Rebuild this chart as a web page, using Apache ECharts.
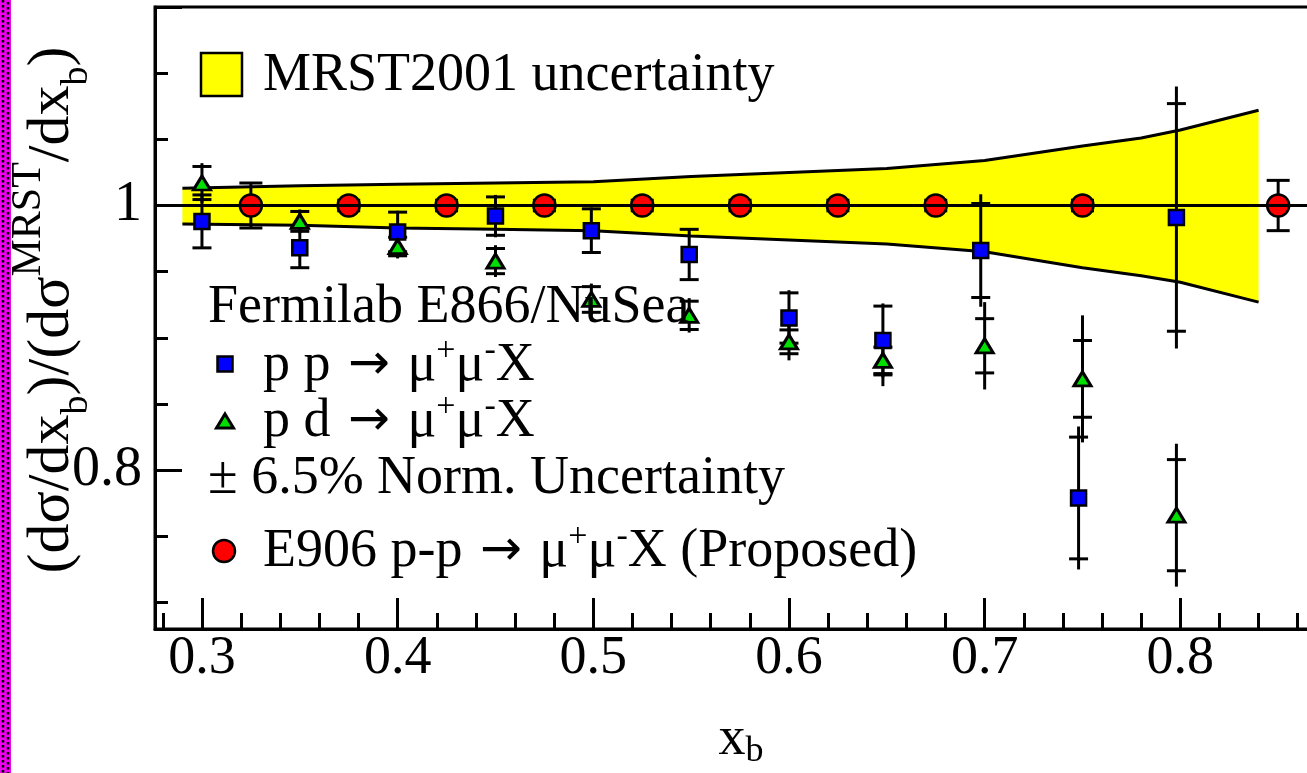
<!DOCTYPE html>
<html><head><meta charset="utf-8">
<script src="https://cdn.jsdelivr.net/npm/echarts@6/dist/echarts.min.js"></script>
<style>html,body{margin:0;padding:0;overflow:hidden;background:#fff;width:1307px;height:773px}
#c{width:1400px;height:773px}</style></head><body><div id="c"></div>
<script>
// axis extents
const xRange = [0.276, 0.9];
const yRange = [0.68, 1.15];

// MRST2001 uncertainty band
const bandX  = [0.29, 0.35, 0.40, 0.45, 0.50, 0.55, 0.60, 0.65, 0.70, 0.75, 0.78, 0.80, 0.84];
const bandHi = [1.013, 1.015, 1.016, 1.017, 1.018, 1.022, 1.025, 1.028, 1.034, 1.045, 1.051, 1.057, 1.072];
const bandLo = [0.986, 0.985, 0.983, 0.982, 0.981, 0.977, 0.974, 0.971, 0.965, 0.953, 0.947, 0.942, 0.927];

// E866 p p
const ppX    = [0.300, 0.350, 0.400, 0.450, 0.499, 0.549, 0.600, 0.648, 0.698, 0.748, 0.798];
const ppY    = [0.988, 0.968, 0.980, 0.992, 0.981, 0.963, 0.915, 0.898, 0.966, 0.779, 0.991];
const ppStat = [0.020, 0.015, 0.015, 0.0145, 0.0165, 0.019, 0.019, 0.026, 0.0355, 0.046, 0.086];
const ppTot  = [0.020, 0.015, 0.016, 0.016, 0.0175, 0.020, 0.021, 0.028, 0.0425, 0.054, 0.099];

// E866 p d
const pdX    = [0.300, 0.350, 0.400, 0.450, 0.499, 0.549, 0.600, 0.648, 0.700, 0.750, 0.798];
const pdY    = [1.017, 0.988, 0.969, 0.958, 0.929, 0.917, 0.897, 0.883, 0.894, 0.869, 0.766];
const pdStat = [0.0125, 0.0075, 0.007, 0.0095, 0.0097, 0.0107, 0.009, 0.010, 0.0205, 0.029, 0.042];
const pdTot  = [0.015, 0.009, 0.009, 0.012, 0.012, 0.013, 0.014, 0.0195, 0.033, 0.048, 0.054];

// E906 proposed
const e906X   = [0.325, 0.375, 0.425, 0.475, 0.525, 0.575, 0.625, 0.675, 0.75, 0.85];
const e906Y   = [1, 1, 1, 1, 1, 1, 1, 1, 1, 1];
const e906Err = [0.017, 0.004, 0.004, 0.004, 0.004, 0.004, 0.004, 0.004, 0.004, 0.019];

const FONT = 'Liberation Serif';
const FS = 54;

function zip(a, b, c, d) { return a.map((v, i) => d ? [v, b[i], c[i], d[i]] : (c ? [v, b[i], c[i]] : [v, b[i]])); }

function errRender(capHalf) {
  return function (params, api) {
    const x = api.value(0), y = api.value(1), s = api.value(2), t = api.value(3);
    const pc = api.coord([x, y]);
    const pT = api.coord([x, y + t]), pB = api.coord([x, y - t]);
    const cT = api.coord([x, y + s]), cB = api.coord([x, y - s]);
    const st = { stroke: '#000', lineWidth: 3 };
    return { type: 'group', children: [
      { type: 'line', shape: { x1: pc[0], y1: pT[1], x2: pc[0], y2: pB[1] }, style: st },
      { type: 'line', shape: { x1: pc[0] - capHalf, y1: cT[1], x2: pc[0] + capHalf, y2: cT[1] }, style: st },
      { type: 'line', shape: { x1: pc[0] - capHalf, y1: cB[1], x2: pc[0] + capHalf, y2: cB[1] }, style: st }
    ]};
  };
}

const chart = echarts.init(document.getElementById('c'), null, { renderer: 'canvas' });

const richSS = {
  sup: { fontFamily: FONT, fontSize: 34, lineHeight: 30, verticalAlign: 'top', fill: '#000', color: '#000' },
  arr: { fontFamily: 'DejaVu Sans', fontSize: 50, lineHeight: 62, fill: '#000', color: '#000', padding: [0, 4, 0, 4] }
};
function txt(x, y, s) {
  return { type: 'text', x: x, y: y, z: 100, style: { text: s, fontFamily: FONT, fontSize: FS, lineHeight: 64, fill: '#000', verticalAlign: 'middle', align: 'left', rich: richSS } };
}

const option = {
  animation: false,
  backgroundColor: '#fff',
  grid: { left: 155, top: 7, right: 24, bottom: 144, show: true, borderColor: '#000', borderWidth: 3, containLabel: false, outerBoundsMode: 'none' },
  xAxis: {
    type: 'value', min: xRange[0], max: xRange[1], splitNumber: 6,
    name: 'x{sub|b}', nameLocation: 'middle', nameGap: 81,
    nameTextStyle: { fontFamily: FONT, fontSize: FS, color: '#000', lineHeight: 60, padding: [0, 49, 0, 0], rich: { sub: { fontFamily: FONT, fontSize: 36, lineHeight: 30, verticalAlign: 'bottom' } } },
    axisLine: { show: true, lineStyle: { color: '#000', width: 3 } },
    axisTick: { show: true, inside: true, length: 31, lineStyle: { color: '#000', width: 3 } },
    minorTick: { show: true, splitNumber: 5, length: 16, lineStyle: { color: '#000', width: 3 } },
    axisLabel: { show: true, fontFamily: FONT, fontSize: FS, color: '#000', margin: 3, showMinLabel: false },
    splitLine: { show: false }
  },
  yAxis: {
    type: 'value', min: yRange[0], max: yRange[1], splitNumber: 2,
    name: '(dσ/dx{sub|b})/(dσ{sup|MRST}/dx{sub|b})', nameLocation: 'middle', nameRotate: 90, nameGap: 59,
    nameMoveOverlap: false,
    nameTextStyle: { fontFamily: FONT, fontSize: 60, color: '#000', lineHeight: 88, padding: [0, 0, 0, 16], rich: {
      sup: { fontFamily: FONT, fontSize: 42, lineHeight: 40, verticalAlign: 'top' },
      sub: { fontFamily: FONT, fontSize: 38, lineHeight: 48, verticalAlign: 'bottom' } } },
    axisLine: { show: true, lineStyle: { color: '#000', width: 3 } },
    axisTick: { show: true, inside: true, length: 27, lineStyle: { color: '#000', width: 3 } },
    minorTick: { show: true, splitNumber: 4, length: 13, lineStyle: { color: '#000', width: 3 } },
    axisLabel: { show: true, fontFamily: FONT, fontSize: 56, color: '#000', margin: 13, showMinLabel: false, showMaxLabel: false },
    splitLine: { show: false }
  },
  series: [
    { name: 'MRST2001 uncertainty', type: 'custom', z: 1, silent: true,
      data: [[bandX[0], 1]],
      renderItem: function (params, api) {
        const pts = [];
        for (let i = 0; i < bandX.length; i++) pts.push(api.coord([bandX[i], bandHi[i]]));
        for (let i = bandX.length - 1; i >= 0; i--) pts.push(api.coord([bandX[i], bandLo[i]]));
        return { type: 'polygon', shape: { points: pts }, style: { fill: '#ffff00' } };
      } },
    { name: 'bandHi', type: 'line', z: 2, data: zip(bandX, bandHi), symbol: 'none', lineStyle: { color: '#000', width: 3 } },
    { name: 'bandLo', type: 'line', z: 2, data: zip(bandX, bandLo), symbol: 'none', lineStyle: { color: '#000', width: 3 } },
    { name: 'e906err', type: 'custom', z: 3, data: zip(e906X, e906Y, e906Err, e906Err), renderItem: errRender(11.5) },
    { name: 'E906', type: 'scatter', z: 4, data: zip(e906X, e906Y), symbol: 'circle', symbolSize: 22,
      itemStyle: { color: '#ff0000', borderColor: '#000', borderWidth: 2.5, opacity: 1 } },
    { name: 'unity', type: 'line', z: 5, data: [[xRange[0], 1], [xRange[1], 1]], symbol: 'none', lineStyle: { color: '#000', width: 3 } },
    { name: 'pperr', type: 'custom', z: 6, data: zip(ppX, ppY, ppStat, ppTot), renderItem: errRender(9.5) },
    { name: 'pderr', type: 'custom', z: 6, data: zip(pdX, pdY, pdStat, pdTot), renderItem: errRender(9.5) },
    { name: 'pp', type: 'scatter', z: 7, data: zip(ppX, ppY), symbol: 'rect', symbolSize: 15,
      itemStyle: { color: '#0000ff', borderColor: '#000', borderWidth: 2.5, opacity: 1 } },
    { name: 'pd', type: 'scatter', z: 7, data: zip(pdX, pdY), symbol: 'triangle', symbolSize: [17, 14],
      itemStyle: { color: '#00e000', borderColor: '#000', borderWidth: 3, opacity: 1 } }
  ],
  graphic: [
    // decorative left border
    { type: 'rect', shape: { x: 0, y: 0, width: 11, height: 773 }, style: { fill: '#f000f0' }, z: 100 },
    { type: 'line', shape: { x1: 3, y1: 0, x2: 3, y2: 773 }, style: { stroke: '#000', lineWidth: 2.5, lineDash: [2.5, 2.5] }, z: 101 },
    { type: 'line', shape: { x1: 8, y1: 2, x2: 8, y2: 773 }, style: { stroke: '#000', lineWidth: 2.5, lineDash: [2.5, 2.5] }, z: 101 },
    // legend
    { type: 'rect', shape: { x: 201, y: 53, width: 41, height: 43 }, style: { fill: '#ffff00', stroke: '#000', lineWidth: 2.5 }, z: 100 },
    txt(263, 76, 'MRST2001 uncertainty'),
    txt(208, 308, 'Fermilab E866/NuSea'),
    { type: 'rect', shape: { x: 217.5, y: 356.5, width: 15, height: 15 }, style: { fill: '#0000ff', stroke: '#000', lineWidth: 2.5 }, z: 100 },
    txt(263, 366, 'p p {arr|→} μ{sup|+}μ{sup|-}X'),
    { type: 'polygon', shape: { points: [[225, 414], [233.5, 428], [216.5, 428]] }, style: { fill: '#00e000', stroke: '#000', lineWidth: 3 }, z: 100 },
    txt(263, 422, 'p d {arr|→} μ{sup|+}μ{sup|-}X'),
    txt(208, 479, '± 6.5% Norm. Uncertainty'),
    { type: 'circle', shape: { cx: 224, cy: 551, r: 11 }, style: { fill: '#ff0000', stroke: '#000', lineWidth: 2.5 }, z: 100 },
    txt(263, 552, 'E906 p-p {arr|→} μ{sup|+}μ{sup|-}X (Proposed)')
  ]
};
chart.setOption(option);
</script></body></html>
